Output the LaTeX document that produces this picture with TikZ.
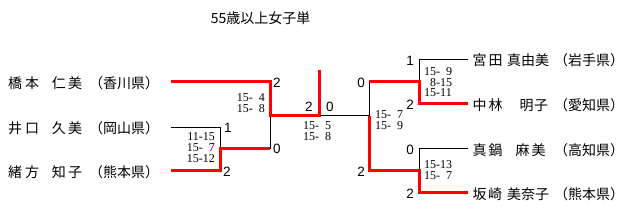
\documentclass[tikz,border=0pt]{standalone}
\usepackage{fontspec}
\newfontfamily\jpfont{Noto Sans CJK JP}
\newfontfamily\scorefont{Liberation Serif}
\newfontfamily\resfont{Liberation Sans}
\begin{document}
\begin{tikzpicture}[x=1pt,y=-1pt,
  nm/.style={inner sep=0pt,anchor=base west,font=\jpfont\fontsize{14}{14}\selectfont},
  sc/.style={inner sep=0pt,font=\scorefont\fontsize{12}{12}\selectfont},
  rs/.style={inner sep=0pt,anchor=center,font=\resfont\fontsize{13.5}{13.5}\selectfont},
  lose/.style={draw=black,line width=1pt},
  win/.style={draw=red,line width=3pt,line join=miter}]
\fill[white] (0,0) rectangle (640,221);
\useasboundingbox (0,0) rectangle (640,221);
% title
\node[inner sep=0pt,anchor=base,font=\jpfont\fontsize{14}{14}\selectfont] (title) at (260.7,24) {55歳以上女子単};
% left names
\node[nm] (n1s) at (8,88.5) {橋\hspace{3pt}本};
\node[nm] (n1g) at (51.7,88.5) {仁\hspace{2.3pt}美};
\node[nm] (n1p) at (89,88.5) {（香川県）};
\node[nm] (n2s) at (8,133.5) {井\hspace{3pt}口};
\node[nm] (n2g) at (51.7,133.5) {久\hspace{2.3pt}美};
\node[nm] (n2p) at (89,133.5) {（岡山県）};
\node[nm] (n3s) at (8,177.5) {緒\hspace{3pt}方};
\node[nm] (n3g) at (51.7,177.5) {知\hspace{2.3pt}子};
\node[nm] (n3p) at (89,177.5) {（熊本県）};
% right names
\node[nm] (n4s) at (472.5,66) {宮\hspace{2pt}田};
\node[nm] (n4g) at (507,66) {真由美};
\node[nm] (n4p) at (554,66) {（岩手県）};
\node[nm] (n5s) at (472.5,110.5) {中\hspace{2pt}林};
\node[nm] (n5g) at (519.5,110.5) {明\hspace{0.5pt}子};
\node[nm] (n5p) at (554,110.5) {（愛知県）};
\node[nm] (n6s) at (472.5,155.5) {真\hspace{2pt}鍋};
\node[nm] (n6g) at (515.5,155.5) {麻\hspace{2pt}美};
\node[nm] (n6p) at (554,155.5) {（高知県）};
\node[nm] (n7s) at (472.5,199.5) {坂\hspace{1.5pt}崎};
\node[nm] (n7g) at (507,199.5) {美奈子};
\node[nm] (n7p) at (554,199.5) {（熊本県）};
% bracket points
\coordinate (a) at (171,82);  \coordinate (a1) at (270,82);
\coordinate (b) at (171,128); \coordinate (b1) at (220,128);
\coordinate (c) at (171,171); \coordinate (c1) at (220,171);
\coordinate (bc) at (220,149); \coordinate (bc1) at (270,149);
\coordinate (L) at (270,116); \coordinate (L1) at (319,116);
\coordinate (top) at (319,70.5);
\coordinate (R) at (369,116);
\coordinate (d) at (468,60);  \coordinate (d1) at (419,60);
\coordinate (e) at (468,104); \coordinate (e1) at (419,104);
\coordinate (de) at (419,82); \coordinate (de1) at (369,82);
\coordinate (f) at (468,149); \coordinate (f1) at (419,149);
\coordinate (g) at (468,193); \coordinate (g1) at (419,193);
\coordinate (fg) at (419,171); \coordinate (fg1) at (369,171);
% losing lines
\draw[lose] (b) -- (b1) -- (bc);
\draw[lose] (bc1) -- (L);
\draw[lose] (L1) -- (R);
\draw[lose] (d) -- (d1) -- (de);
\draw[lose] (de1) -- (R);
\draw[lose] (f) -- (f1) -- (fg);
% winning lines
\draw[win] (a) -- (a1) -- (L) -- (L1) -- (top);
\draw[win] (c) -- (c1) -- (bc) -- (bc1);
\draw[win] (e) -- (e1) -- (de) -- (de1);
\draw[win] (g) -- (g1) -- (fg) -- (fg1) -- (R);
% results
\node[rs] (r1) at (277,82.5) {2};
\node[rs] (r2) at (228,127.5) {1};
\node[rs] (r3) at (277,149) {0};
\node[rs] (r4) at (227,172) {2};
\node[rs] (f1r) at (309,106.5) {2};
\node[rs] (f2r) at (330,106.5) {0};
\node[rs] (r5) at (410,61) {1};
\node[rs] (r6) at (361,83) {0};
\node[rs] (r7) at (410,105) {2};
\node[rs] (r8) at (410,149.5) {0};
\node[rs] (r9) at (361,172) {2};
\node[rs] (r10) at (410,194) {2};
% scores
\node[sc,anchor=base east] (s1a) at (265,102) {15-\hphantom{0}4};
\node[sc,anchor=base east] (s1b) at (265,113) {15-\hphantom{0}8};
\node[sc,anchor=base east] (s2a) at (215,141) {11-15};
\node[sc,anchor=base east] (s2b) at (215,152) {15-\hphantom{0}7};
\node[sc,anchor=base east] (s2c) at (215,163) {15-12};
\node[sc,anchor=base] (s3a) at (317,130) {15-\hphantom{0}5};
\node[sc,anchor=base] (s3b) at (317,141) {15-\hphantom{0}8};
\node[sc,anchor=base west] (s4a) at (375,119) {15-\hphantom{0}7};
\node[sc,anchor=base west] (s4b) at (375,130) {15-\hphantom{0}9};
\node[sc,anchor=base west] (s5a) at (424,76) {15-\hphantom{0}9};
\node[sc,anchor=base west] (s5b) at (424,86.5) {\hphantom{0}8-15};
\node[sc,anchor=base west] (s5c) at (424,97) {15-11};
\node[sc,anchor=base west] (s6a) at (424,169) {15-13};
\node[sc,anchor=base west] (s6b) at (424,180) {15-\hphantom{0}7};
\end{tikzpicture}
\end{document}
